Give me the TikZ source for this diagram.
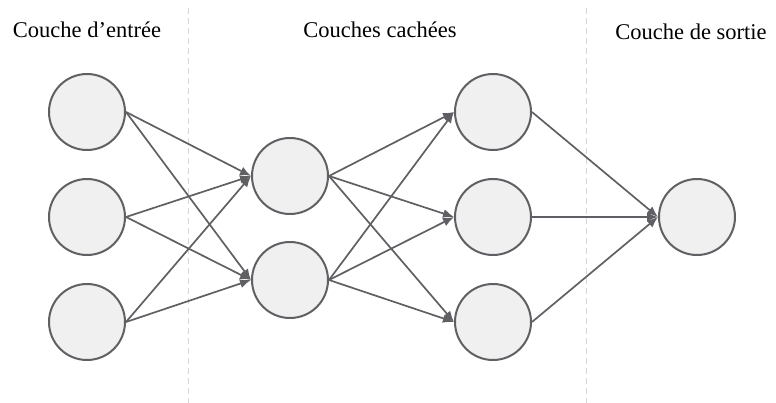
\documentclass[tikz,border=0pt]{standalone}
\usepackage{fontspec}
\setmainfont{Liberation Serif}
\usetikzlibrary{arrows.meta}
\definecolor{edgegray}{RGB}{96,96,100}
\definecolor{nodefill}{RGB}{240,240,240}
\definecolor{sepgray}{RGB}{215,215,215}
\tikzset{
  neuron/.style={circle, draw=edgegray, fill=nodefill, line width=2pt, minimum size=76pt, inner sep=0pt},
  link/.style={draw=edgegray, line width=1.7pt, -{Latex[length=11pt,width=9pt]}},
  separator/.style={draw=sepgray, line width=1pt, dash pattern=on 6pt off 4pt},
  layertitle/.style={font=\fontsize{22.5}{27}\selectfont, text=black}
}
\begin{document}
\begin{tikzpicture}[x=1pt,y=-1pt]
\useasboundingbox (0,0) rectangle (776,403);
% layer separators
\draw[separator] (188,8) -- (188,403);
\draw[separator] (586,8) -- (586,403);
% titles
\node[layertitle] (t1) at (87,30) {Couche d’entrée};
\node[layertitle] (t2) at (380,30) {Couches cachées};
\node[layertitle] (t3) at (691,32) {Couche de sortie};
% input layer
\node[neuron] (i1) at (87,112) {};
\node[neuron] (i2) at (87,217) {};
\node[neuron] (i3) at (87,322) {};
% first hidden layer
\node[neuron] (h1) at (290,176) {};
\node[neuron] (h2) at (290,280) {};
% second hidden layer
\node[neuron] (g1) at (493,112) {};
\node[neuron] (g2) at (493,217) {};
\node[neuron] (g3) at (493,322) {};
% output layer
\node[neuron] (o1) at (697,217) {};
% connections
\foreach \a in {i1,i2,i3}
  \foreach \b in {h1,h2}
    \draw[link] (\a.east) -- (\b.west);
\foreach \a in {h1,h2}
  \foreach \b in {g1,g2,g3}
    \draw[link] (\a.east) -- (\b.west);
\foreach \a in {g1,g2,g3}
  \draw[link] (\a.east) -- (o1.west);
\end{tikzpicture}
\end{document}
